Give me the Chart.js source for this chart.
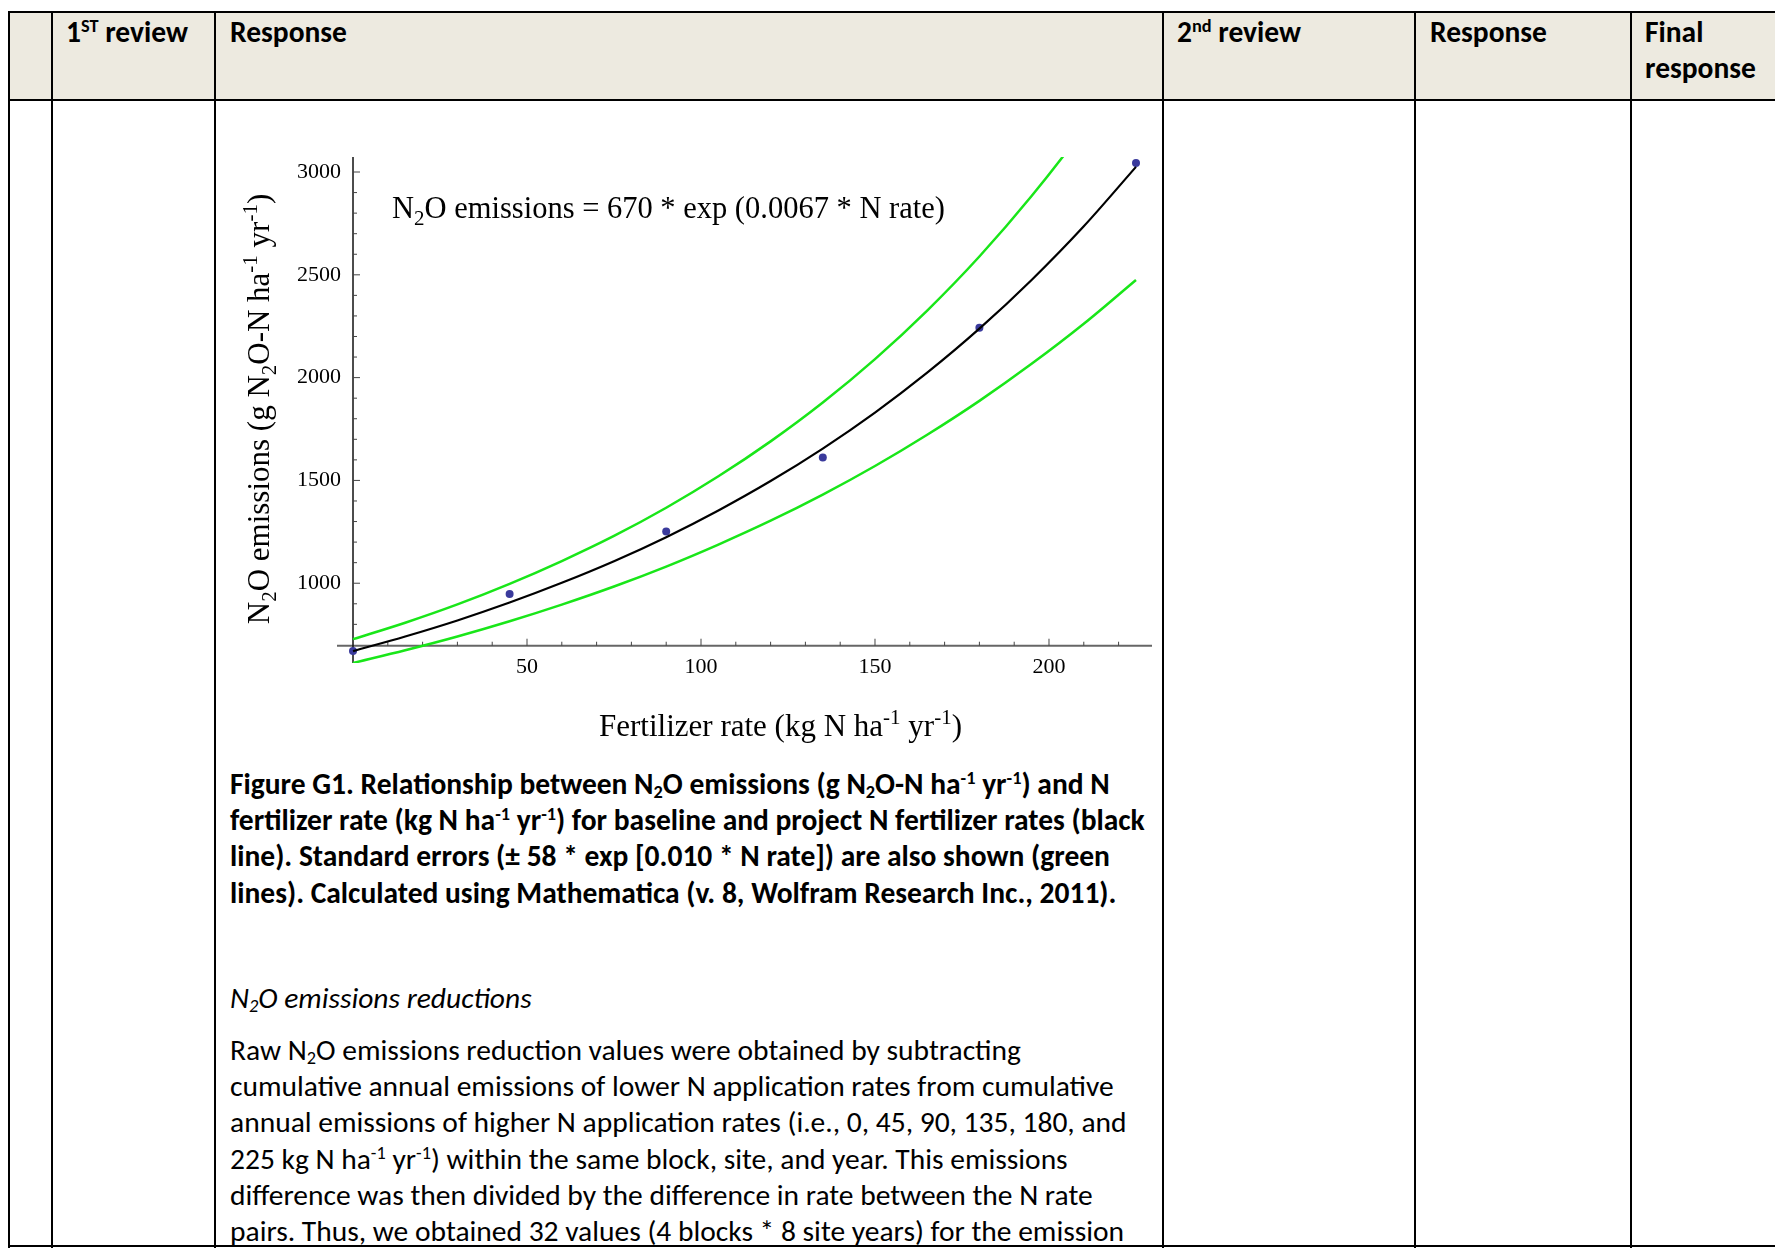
<!DOCTYPE html>
<html>
<head>
<meta charset="utf-8">
<script src="https://cdn.jsdelivr.net/npm/chart.js@4.4.1/dist/chart.umd.min.js"></script>
<style>
  html, body { margin: 0; padding: 0; background: #fff; }
  body { width: 1775px; height: 1248px; overflow: hidden; position: relative;
         font-family: "Liberation Sans Narrow", "Carlito", "Roboto", sans-serif; color: #000; }
  .hdr { position: absolute; left: 9px; top: 12px; width: 1766px; height: 88px; background: #edeae0; }
  .hl { position: absolute; background: #000; }
  .cell { position: absolute; font-weight: bold; font-size: 29.5px; line-height: 36px; white-space: nowrap; }
  .txt { position: absolute; left: 230px; font-size: 29.5px; line-height: 36.2px; white-space: nowrap; }
  sup, sub { font-size: 62%; line-height: 0; }
  sup { vertical-align: 0.55em; }
  sub { vertical-align: -0.2em; }
  #chartBox { position: absolute; left: 217px; top: 103px; width: 944px; height: 640px; }
</style>
</head>
<body>
<div class="hdr"></div>
<!-- table lines -->
<div class="hl" style="left:9px;top:11px;width:1766px;height:2px"></div>
<div class="hl" style="left:9px;top:99px;width:1766px;height:2px"></div>
<div class="hl" style="left:9px;top:1245px;width:1766px;height:2px"></div>
<div class="hl" style="left:8px;top:11px;width:2px;height:1237px"></div>
<div class="hl" style="left:51px;top:11px;width:2px;height:1237px"></div>
<div class="hl" style="left:214px;top:11px;width:2px;height:1237px"></div>
<div class="hl" style="left:1162px;top:11px;width:2px;height:1237px"></div>
<div class="hl" style="left:1414px;top:11px;width:2px;height:1237px"></div>
<div class="hl" style="left:1630px;top:11px;width:2px;height:1237px"></div>

<div class="cell" style="left:66px;top:14px">1<sup>ST</sup> review</div>
<div class="cell" style="left:230px;top:14px">Response</div>
<div class="cell" style="left:1177px;top:14px">2<sup>nd</sup> review</div>
<div class="cell" style="left:1430px;top:14px">Response</div>
<div class="cell" style="left:1645px;top:14px">Final<br>response</div>

<div id="chartBox"><canvas id="myChart" width="944" height="640"></canvas></div>

<div class="txt" style="top:766px;font-weight:bold">Figure G1. Relationship between N<sub>2</sub>O emissions (g N<sub>2</sub>O-N ha<sup>-1</sup> yr<sup>-1</sup>) and N<br>fertilizer rate (kg N ha<sup>-1</sup> yr<sup>-1</sup>) for baseline and project N fertilizer rates (black<br>line). Standard errors (± 58 * exp [0.010 * N rate]) are also shown (green<br>lines). Calculated using Mathematica (v. 8, Wolfram Research Inc., 2011).</div>

<div class="txt" style="top:980px;font-style:italic">N<sub>2</sub>O emissions reductions</div>

<div class="txt" style="top:1032px">Raw N<sub>2</sub>O emissions reduction values were obtained by subtracting<br>cumulative annual emissions of lower N application rates from cumulative<br>annual emissions of higher N application rates (i.e., 0, 45, 90, 135, 180, and<br>225 kg N ha<sup>-1</sup> yr<sup>-1</sup>) within the same block, site, and year. This emissions<br>difference was then divided by the difference in rate between the N rate<br>pairs. Thus, we obtained 32 values (4 blocks * 8 site years) for the emission</div>

<script>
// observed N2O emissions at each N rate
var rates    = [0, 45, 90, 135, 180, 225];
var observed = [670, 947, 1252, 1612, 2243, 3044];

// fitted curve and standard error bands
var curveRates = [0, 15, 30, 45, 60, 75, 90, 105, 120, 135, 150, 165, 180, 195, 210, 225];
var fitted  = [670, 741, 819, 906, 1002, 1107, 1224, 1354, 1497, 1655, 1830, 2024, 2238, 2475, 2736, 3025];
var upperSE = [728, 808, 897, 997, 1108, 1230, 1367, 1520, 1690, 1879, 2090, 2326, 2589, 2883, 3210, 3575];
var lowerSE = [612, 674, 741, 815, 896, 984, 1081, 1188, 1304, 1431, 1570, 1722, 1887, 2067, 2262, 2475];

// axis ticks
var xMajor = [50, 100, 150, 200];
var yMajor = [1000, 1500, 2000, 2500, 3000];
var xCross = 696;   // where the rate axis crosses the emissions axis

var SERIF = '"Liberation Serif", "DejaVu Serif", serif';

function pts(xs, ys) {
  return xs.map(function(x, i) { return {x: x, y: ys[i]}; });
}

// draw text with sub/superscript pieces
function richText(ctx, parts, x, y, size, align) {
  var w = 0;
  parts.forEach(function(p) {
    ctx.font = (p[1] == 'n' ? size : Math.round(size * 0.68)) + 'px ' + SERIF;
    w += ctx.measureText(p[0]).width;
  });
  var cx = align == 'center' ? x - w / 2 : x;
  ctx.textAlign = 'left';
  ctx.textBaseline = 'alphabetic';
  parts.forEach(function(p) {
    var dy = 0;
    if (p[1] == 'n') ctx.font = size + 'px ' + SERIF;
    else ctx.font = Math.round(size * 0.68) + 'px ' + SERIF;
    if (p[1] == 'sub') dy = size * 0.22;
    if (p[1] == 'sup') dy = -size * 0.38;
    ctx.fillText(p[0], cx, y + dy);
    cx += ctx.measureText(p[0]).width;
  });
}

var axesPlugin = {
  id: 'mathAxes',
  beforeDatasetsDraw: function(chart) {
    var ctx = chart.ctx, xs = chart.scales.x, ys = chart.scales.y, a = chart.chartArea;
    var y0 = ys.getPixelForValue(xCross), x0 = xs.getPixelForValue(0);
    ctx.save();
    ctx.strokeStyle = '#666';
    ctx.lineWidth = 1.8;
    ctx.beginPath();
    ctx.moveTo(a.left, y0); ctx.lineTo(a.right, y0);
    ctx.stroke();
    ctx.strokeStyle = '#111';
    ctx.lineWidth = 1.5;
    ctx.beginPath();
    ctx.moveTo(x0, a.top); ctx.lineTo(x0, a.bottom);
    ctx.stroke();

    // rate ticks point up
    ctx.strokeStyle = '#444';
    ctx.lineWidth = 1;
    for (var v = 10; v <= 220; v += 10) {
      var px = xs.getPixelForValue(v);
      var len = xMajor.indexOf(v) >= 0 ? 7 : 4;
      ctx.beginPath(); ctx.moveTo(px, y0); ctx.lineTo(px, y0 - len); ctx.stroke();
    }
    // emissions ticks point right
    for (var e = 800; e <= 3000; e += 100) {
      var py = ys.getPixelForValue(e);
      var l2 = yMajor.indexOf(e) >= 0 ? 7 : 4;
      ctx.beginPath(); ctx.moveTo(x0, py); ctx.lineTo(x0 + l2, py); ctx.stroke();
    }

    ctx.fillStyle = '#000';
    ctx.font = '22px ' + SERIF;
    ctx.textBaseline = 'middle';
    ctx.textAlign = 'center';
    xMajor.forEach(function(v) {
      ctx.fillText(String(v), xs.getPixelForValue(v), y0 + 21);
    });
    ctx.textAlign = 'right';
    yMajor.forEach(function(v) {
      ctx.fillText(String(v), x0 - 12, ys.getPixelForValue(v));
    });

    // equation
    richText(ctx, [['N', 'n'], ['2', 'sub'], ['O emissions = 670 * exp (0.0067 * N rate)', 'n']],
             x0 + 39, 115, 30.5, 'left');
    // axis titles
    richText(ctx, [['Fertilizer rate (kg N ha', 'n'], ['-1', 'sup'], [' yr', 'n'], ['-1', 'sup'], [')', 'n']],
             (a.left + a.right) / 2 + 36, 633, 31, 'center');
    ctx.translate(52, 306);
    ctx.rotate(-Math.PI / 2);
    richText(ctx, [['N', 'n'], ['2', 'sub'], ['O emissions (g N', 'n'], ['2', 'sub'], ['O-N ha', 'n'],
                   ['-1', 'sup'], [' yr', 'n'], ['-1', 'sup'], [')', 'n']], 0, 0, 31, 'center');
    ctx.restore();
  }
};

var config = {
  type: 'scatter',
  data: {
    datasets: [{
      label: 'upper SE',
      data: pts(curveRates, upperSE),
      showLine: true, borderColor: '#19e619', borderWidth: 2.5, pointRadius: 0,
      cubicInterpolationMode: 'monotone'
    }, {
      label: 'lower SE',
      data: pts(curveRates, lowerSE),
      showLine: true, borderColor: '#19e619', borderWidth: 2.5, pointRadius: 0,
      cubicInterpolationMode: 'monotone'
    }, {
      label: 'fitted',
      data: pts(curveRates, fitted),
      showLine: true, borderColor: '#000', borderWidth: 2.2, pointRadius: 0,
      cubicInterpolationMode: 'monotone'
    }, {
      label: 'observed',
      data: pts(rates, observed),
      showLine: false, pointRadius: 4, pointBackgroundColor: '#3a3a9c', pointBorderWidth: 0
    }]
  },
  options: {
    responsive: false,
    animation: false,
    layout: { padding: { left: 120, top: 54, right: 9, bottom: 80 } },
    plugins: { legend: { display: false }, tooltip: { enabled: false } },
    scales: {
      x: { type: 'linear', min: -4.6, max: 229.6, display: false },
      y: { type: 'linear', min: 612, max: 3073, display: false }
    }
  },
  plugins: [axesPlugin]
};

var ctx = document.getElementById('myChart').getContext('2d');
var myChart = new Chart(ctx, config);
</script>
</body>
</html>
